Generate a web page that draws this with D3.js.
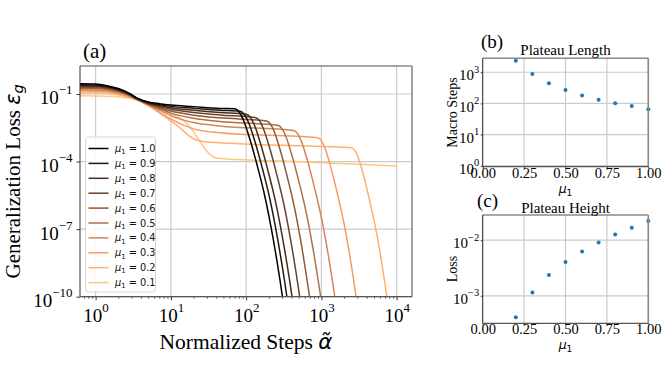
<!DOCTYPE html>
<html lang="en">
<head>
<meta charset="UTF-8">
<title>Plateau figure</title>
<script src="https://cdn.jsdelivr.net/npm/d3@7"></script>
<style>
  body { margin: 0; background: #fff; }
  svg { display: block; }
</style>
</head>
<body>
<svg id="chart" width="664" height="374"></svg>
<script>
// ---- data ----
var muValues = [1.0, 0.9, 0.8, 0.7, 0.6, 0.5, 0.4, 0.3, 0.2, 0.1];
var muLabels = ["1.0", "0.9", "0.8", "0.7", "0.6", "0.5", "0.4", "0.3", "0.2", "0.1"];

// generalization loss vs normalized steps, one list of [steps, loss] per mu
var lossMu10 = [[0.62,0.282],[1,0.275],[1.41,0.234],[2,0.174],[2.82,0.105],[3.55,0.066],[5.01,0.0447],[7.08,0.0372],[10,0.0324],[20,0.0275],[44.7,0.0229],[70.8,0.0219],[81.3,1.55e-2],[93.3,6.17e-3],[112.2,9.77e-4],[141.3,6.17e-5],[177.8,2.75e-6],[223.9,5.50e-8],[281.8,5.50e-10],[354.8,2.75e-12]];
var lossMu09 = [[0.62,0.257],[1,0.251],[1.41,0.219],[2,0.162],[2.82,0.102],[3.55,0.0646],[5.01,0.0417],[7.08,0.0331],[10,0.0282],[20,0.0234],[44.7,0.0191],[83.2,0.0170],[95.3,1.20e-2],[109.4,4.79e-3],[131.2,7.59e-4],[164.8,4.79e-5],[207.0,2.14e-6],[260.0,4.27e-8],[326.6,4.27e-10],[410.2,2.14e-12]];
var lossMu08 = [[0.62,0.234],[1,0.229],[1.41,0.204],[2,0.155],[2.82,0.0977],[3.55,0.0631],[5.01,0.0398],[7.08,0.0302],[10,0.0245],[20,0.0191],[44.7,0.0151],[100,0.0126],[114.6,8.91e-3],[131.2,3.55e-3],[157.0,5.62e-4],[196.8,3.55e-5],[246.6,1.58e-6],[309.0,3.16e-8],[387.3,3.16e-10],[485.3,1.58e-12]];
var lossMu07 = [[0.62,0.214],[1,0.209],[1.41,0.186],[2,0.145],[2.82,0.0933],[3.55,0.0617],[5.01,0.0380],[7.08,0.0275],[10,0.0209],[20,0.0151],[44.7,0.0117],[131.8,0.00912],[150.7,6.46e-3],[171.8,2.57e-3],[205.1,4.07e-4],[255.9,2.57e-5],[319.2,1.15e-6],[398.1,2.29e-8],[496.6,2.29e-10],[619.4,1.15e-12]];
var lossMu06 = [[0.62,0.195],[1,0.191],[1.41,0.174],[2,0.135],[2.82,0.0891],[3.55,0.0603],[5.01,0.0363],[7.08,0.0245],[10,0.0174],[20,0.0115],[44.7,0.00871],[186.2,0.00631],[211.8,4.47e-3],[241.5,1.78e-3],[287.1,2.82e-4],[356.5,1.78e-5],[442.6,7.94e-7],[549.5,1.58e-8],[682.3,1.58e-10],[847.2,7.94e-13]];
var lossMu05 = [[0.62,0.174],[1,0.170],[1.41,0.158],[2,0.126],[2.82,0.0851],[3.55,0.0575],[5.01,0.0347],[7.08,0.0219],[10,0.0141],[20,0.00832],[44.7,0.00603],[263.0,0.00407],[299.9,2.88e-3],[342.0,1.15e-3],[407.4,1.82e-4],[507.0,1.15e-5],[631.0,5.13e-7],[785.2,1.02e-8],[977.2,1.02e-10],[1216,5.13e-13]];
var lossMu04 = [[0.62,0.155],[1,0.151],[1.41,0.141],[2,0.115],[2.82,0.0813],[3.55,0.0562],[5.01,0.0331],[7.08,0.0191],[10,0.0110],[20,0.00537],[44.7,0.00380],[426.6,0.00240],[485.3,1.70e-3],[552.1,6.76e-4],[654.6,1.07e-4],[811.0,6.76e-6],[1005,3.02e-7],[1245,6.03e-9],[1542,6.03e-11],[1910,3.02e-13]];
var lossMu03 = [[0.62,0.135],[1,0.132],[1.41,0.126],[2,0.105],[2.82,0.0759],[3.55,0.0550],[5.01,0.0316],[7.08,0.0158],[10,0.00759],[20,0.00282],[44.7,0.00191],[891.3,0.00115],[1007,8.13e-4],[1140,3.24e-4],[1343,5.13e-5],[1648,3.24e-6],[2023,1.45e-7],[2483,2.88e-9],[3048,2.88e-11],[3741,1.45e-13]];
var lossMu02 = [[0.62,0.112],[1,0.110],[1.41,0.107],[2,0.0933],[2.82,0.0708],[3.55,0.0537],[5.01,0.0302],[7.08,0.0141],[10,0.00631],[13.2,0.00316],[16.6,0.00158],[20.9,9.55e-4],[28.2,7.59e-4],[44.7,6.76e-4],[316,5.25e-4],[2512,4.07e-4],[2825,2.88e-4],[3177,1.15e-4],[3715,1.82e-5],[4519,1.15e-6],[5495,5.13e-8],[6683,1.02e-9],[8128,1.02e-11],[9886,5.13e-14]];
var lossMu01 = [[0.62,0.0832],[1,0.0813],[1.41,0.0794],[2,0.0759],[2.82,0.0646],[3.55,0.0525],[5.01,0.0355],[7.08,0.0224],[10,0.0135],[13.2,0.00851],[16.2,0.00501],[20.0,0.00209],[25.1,6.61e-4],[31.6,2.40e-4],[38.0,1.51e-4],[50.1,1.32e-4],[316,1.05e-4],[1000,8.91e-5],[3162,7.59e-5],[10000,6.31e-5]];
var lossCurves = [lossMu10, lossMu09, lossMu08, lossMu07, lossMu06, lossMu05, lossMu04, lossMu03, lossMu02, lossMu01];

// plateau summary (panels b and c)
var plateauMu = [0.2, 0.3, 0.4, 0.5, 0.6, 0.7, 0.8, 0.9, 1.0];
var plateauLength = [2320, 880, 440, 270, 180, 131, 102, 82, 65];
var plateauHeight = [4.1e-4, 1.15e-3, 2.36e-3, 4.07e-3, 6.24e-3, 9.06e-3, 1.26e-2, 1.68e-2, 2.22e-2];

var mainXTicks = [1, 10, 100, 1000, 10000];
var mainYTicks = [1e-1, 1e-4, 1e-7, 1e-10];
var lengthTicks = [1, 10, 100, 1000];
var heightTicks = [1e-3, 1e-2];
var muTicks = [0, 0.25, 0.5, 0.75, 1.0];

// ---- styles ----
var serif = "'Liberation Serif', 'Times New Roman', serif";
var sans = "'DejaVu Sans', sans-serif";
var gridColor = "#cbcbcb";

// matplotlib copper colormap, black for mu=1 to light peach for mu=0.1
function copper(t) {
  return d3.rgb(Math.min(1, 1.25 * t) * 255, 0.7812 * t * 255, 0.4975 * t * 255).formatHex();
}
function muColor(mu) { return copper((1 - mu) / 0.9); }

var svg = d3.select("#chart");

// label like 10^-4 : "10" + raised exponent
function powLabel(sel, size, supSize, rise) {
  sel.each(function(d) {
    var e = Math.round(Math.log10(d));
    var t = d3.select(this).text(null).attr("font-family", serif).attr("font-size", size).attr("fill", "#000");
    t.append("tspan").text("10");
    t.append("tspan").attr("dy", -rise).attr("font-size", supSize).text(e < 0 ? "\u2212" + (-e) : e);
  });
}

function frame(g, x0, x1, y0, y1) {
  g.append("line").attr("x1", x0).attr("x2", x1).attr("y1", y0).attr("y2", y0).attr("stroke", "#8a8a8a").attr("stroke-width", 1.6);
  g.append("line").attr("x1", x1).attr("x2", x1).attr("y1", y0).attr("y2", y1).attr("stroke", "#8a8a8a").attr("stroke-width", 1.6);
  g.append("line").attr("x1", x0).attr("x2", x0).attr("y1", y0).attr("y2", y1).attr("stroke", "#333").attr("stroke-width", 1);
  g.append("line").attr("x1", x0).attr("x2", x1).attr("y1", y1).attr("y2", y1).attr("stroke", "#555").attr("stroke-width", 1.3);
}

// ================= panel (a) =================
var ax = {left: 80, right: 412, top: 66, bottom: 296.7};
var x = d3.scaleLog().domain([0.62, 16000]).range([ax.left, ax.right]);
var y = d3.scaleLog().domain([1e-10, 1.75]).range([ax.bottom, ax.top]);

var gA = svg.append("g");

// grid
gA.selectAll("line.vg").data(mainXTicks).enter().append("line")
  .attr("x1", d => x(d)).attr("x2", d => x(d)).attr("y1", ax.top).attr("y2", ax.bottom)
  .attr("stroke", gridColor).attr("stroke-width", 1.2);
gA.selectAll("line.hg").data(mainYTicks).enter().append("line")
  .attr("x1", ax.left).attr("x2", ax.right).attr("y1", d => y(d)).attr("y2", d => y(d))
  .attr("stroke", gridColor).attr("stroke-width", 1.2);

svg.append("clipPath").attr("id", "clipA").append("rect")
  .attr("x", ax.left).attr("y", ax.top).attr("width", ax.right - ax.left).attr("height", ax.bottom - ax.top);

var line = d3.line().x(d => x(d[0])).y(d => y(d[1])).curve(d3.curveMonotoneX);

// light curves first so black ends on top
gA.append("g").attr("clip-path", "url(#clipA)")
  .selectAll("path").data(lossCurves.map((c, i) => ({pts: c, mu: muValues[i]})).reverse())
  .enter().append("path")
  .attr("d", d => line(d.pts))
  .attr("fill", "none")
  .attr("stroke", d => muColor(d.mu))
  .attr("stroke-width", 1.5);

// axes
var minorX = [];
for (var p = -1; p <= 4; p++) for (var k = 2; k <= 9; k++) {
  var v = k * Math.pow(10, p);
  if (v > 0.62 && v < 16000) minorX.push(v);
}
gA.append("g").attr("transform", "translate(0," + ax.bottom + ")")
  .call(d3.axisBottom(x).tickValues(minorX).tickSize(2).tickFormat(""))
  .call(g => g.select(".domain").remove())
  .call(g => g.selectAll("line").attr("stroke", "#333").attr("stroke-width", 0.8));
var xAxisA = gA.append("g").attr("transform", "translate(0," + ax.bottom + ")")
  .call(d3.axisBottom(x).tickValues(mainXTicks).tickSize(3.5))
  .call(g => g.select(".domain").remove())
  .call(g => g.selectAll("line").attr("stroke", "#333"));
xAxisA.selectAll("text").attr("y", 25).attr("dy", null).call(powLabel, 19, 13, 10);

var yAxisA = gA.append("g").attr("transform", "translate(" + ax.left + ",0)")
  .call(d3.axisLeft(y).tickValues(mainYTicks).tickSize(3.5))
  .call(g => g.select(".domain").remove())
  .call(g => g.selectAll("line").attr("stroke", "#333"));
yAxisA.selectAll("text").attr("x", -7.5).attr("y", 10).attr("dy", null).call(powLabel, 19, 13, 10);

frame(gA, ax.left, ax.right, ax.top, ax.bottom);

// legend
var leg = gA.append("g");
leg.append("rect").attr("x", 85.5).attr("y", 137).attr("width", 70).attr("height", 155)
  .attr("rx", 3).attr("fill", "#fff").attr("fill-opacity", 0.85)
  .attr("stroke", "#d6d6d6").attr("stroke-width", 1);
var legItems = leg.selectAll("g.item").data(muValues).enter().append("g")
  .attr("transform", (d, i) => "translate(0," + (148.5 + i * 14.9) + ")");
legItems.append("line").attr("x1", 88.5).attr("x2", 108.5).attr("y1", 0).attr("y2", 0)
  .attr("stroke", d => muColor(d)).attr("stroke-width", 1.5);
legItems.each(function(d, i) {
  var t = d3.select(this).append("text").attr("x", 115).attr("y", 3.5)
    .attr("font-family", sans).attr("font-size", 9.8).attr("fill", "#111");
  t.append("tspan").attr("font-style", "italic").text("\u03bc");
  t.append("tspan").attr("font-size", 6.8).attr("dy", 2.2).text("1");
  t.append("tspan").attr("dy", -2.2).text(" = " + muLabels[i]);
});

// labels
svg.append("text").attr("x", 83).attr("y", 57.5).attr("font-family", serif).attr("font-size", 21).text("(a)");
var xl = svg.append("text").attr("x", (ax.left + ax.right) / 2).attr("y", 349)
  .attr("text-anchor", "middle").attr("font-family", serif).attr("font-size", 21.5);
xl.append("tspan").text("Normalized Steps ");
xl.append("tspan").attr("font-family", sans).attr("font-style", "italic").text("\u03b1\u0303");

var yl = svg.append("text").attr("transform", "translate(19.5," + ((ax.top + ax.bottom) / 2) + ") rotate(-90)")
  .attr("text-anchor", "middle").attr("font-family", serif).attr("font-size", 21);
yl.append("tspan").text("Generalization Loss ");
yl.append("tspan").attr("font-family", sans).attr("font-style", "italic").text("\u03b5");
yl.append("tspan").attr("font-family", sans).attr("font-style", "italic").attr("font-size", 14.5).attr("dy", 3.5).text("g");

// ================= panels (b) and (c) =================
function scatterPanel(cfg) {
  var g = svg.append("g");
  var xs = d3.scaleLinear().domain([0, 1]).range([cfg.left, cfg.right]);
  var ys = d3.scaleLog().domain(cfg.yDomain).range([cfg.bottom, cfg.top]);

  g.selectAll("line.vg").data(muTicks).enter().append("line")
    .attr("x1", d => xs(d)).attr("x2", d => xs(d)).attr("y1", cfg.top).attr("y2", cfg.bottom)
    .attr("stroke", gridColor).attr("stroke-width", 1.2);
  g.selectAll("line.hg").data(cfg.yTicks).enter().append("line")
    .attr("x1", cfg.left).attr("x2", cfg.right).attr("y1", d => ys(d)).attr("y2", d => ys(d))
    .attr("stroke", gridColor).attr("stroke-width", 1.2);

  var xa = g.append("g").attr("transform", "translate(0," + cfg.bottom + ")")
    .call(d3.axisBottom(xs).tickValues(muTicks).tickSize(2).tickFormat(d3.format(".2f")))
    .call(s => s.select(".domain").remove())
    .call(s => s.selectAll("line").attr("stroke", "#333"));
  xa.selectAll("text").attr("y", 11).attr("dy", null)
    .attr("font-family", serif).attr("font-size", 14.5).attr("fill", "#000");

  var ya = g.append("g").attr("transform", "translate(" + cfg.left + ",0)")
    .call(d3.axisLeft(ys).tickValues(cfg.yTicks).tickSize(2))
    .call(s => s.select(".domain").remove())
    .call(s => s.selectAll("line").attr("stroke", "#333"));
  ya.selectAll("text").attr("x", -3.5).attr("y", 7.7).attr("dy", null).call(powLabel, 15, 10.5, 7.5);

  g.selectAll("circle").data(cfg.values).enter().append("circle")
    .attr("cx", (d, i) => xs(plateauMu[i])).attr("cy", d => ys(d)).attr("r", 2)
    .attr("fill", "#1f77b4");

  frame(g, cfg.left, cfg.right, cfg.top, cfg.bottom);

  svg.append("text").attr("x", (cfg.left + cfg.right) / 2).attr("y", cfg.titleY)
    .attr("text-anchor", "middle").attr("font-family", serif).attr("font-size", 15).text(cfg.title);
  svg.append("text").attr("x", cfg.tagX).attr("y", cfg.tagY)
    .attr("font-family", serif).attr("font-size", 19).text(cfg.tag);
  svg.append("text").attr("transform", "translate(457," + ((cfg.top + cfg.bottom) / 2) + ") rotate(-90)")
    .attr("text-anchor", "middle").attr("font-family", serif).attr("font-size", 14).text(cfg.yLabel);
  var mu = svg.append("text").attr("x", (cfg.left + cfg.right) / 2).attr("y", cfg.muY)
    .attr("text-anchor", "middle").attr("font-family", sans).attr("font-size", 12.5);
  mu.append("tspan").attr("font-style", "italic").text("\u03bc");
  mu.append("tspan").attr("font-size", 9).attr("dy", 2.5).text("1");
}

scatterPanel({left: 482.7, right: 648.3, top: 58.3, bottom: 166.7,
  yDomain: [0.93, 2800], yTicks: lengthTicks, values: plateauLength,
  title: "Plateau Length", titleY: 55, tag: "(b)", tagX: 481, tagY: 48,
  yLabel: "Macro Steps", muY: 193});

scatterPanel({left: 482.7, right: 648.3, top: 215, bottom: 323.3,
  yDomain: [3.2e-4, 0.0284], yTicks: heightTicks, values: plateauHeight,
  title: "Plateau Height", titleY: 213, tag: "(c)", tagX: 477, tagY: 207,
  yLabel: "Loss", muY: 349});
</script>
</body>
</html>
